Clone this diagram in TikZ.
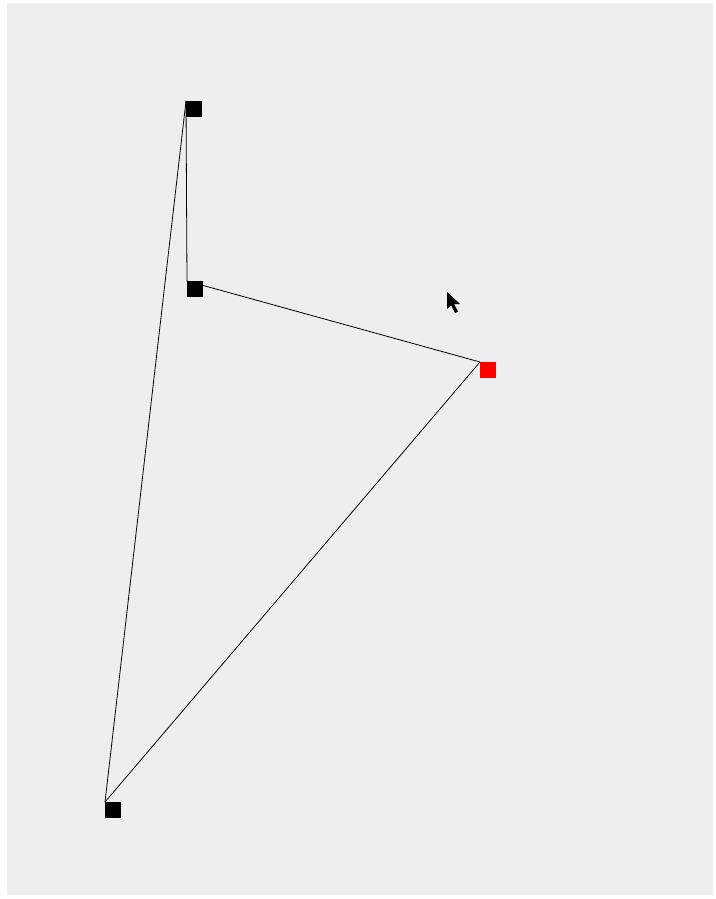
\documentclass[tikz,border=0pt]{standalone}
\usepackage{tikz}
\usetikzlibrary{positioning,calc}
\definecolor{Canvas}{HTML}{EEEEEE}
\definecolor{Edge}{HTML}{FFFFFF}
\definecolor{Ink}{HTML}{000000}
\definecolor{Hot}{HTML}{FF0000}
\definecolor{Shade}{HTML}{A8A8A8}
\tikzset{
  handle/.style={draw=none,fill=Ink,minimum size=16pt,inner sep=0pt,anchor=north west},
  handlehot/.style={handle,fill=Hot},
  wire/.style={draw=Ink,line width=0.8pt}
}

\begin{document}
\begin{tikzpicture}[x=1pt,y=-1pt]
  \fill[Edge] (0,0) rectangle (715,899);
  \fill[Canvas] (7,3) rectangle (713,895);
  \useasboundingbox (0,0) rectangle (715,899);
  % points of the polygon
  \node[handle] (top) at (186,101) {};
  \node[handle] (mid) at (187,281) {};
  \node[handlehot] (hot) at (480,362) {};
  \node[handle] (low) at (105,802) {};
  \draw[wire] (top.north west)--(mid.north west);
  \draw[wire] (mid.north west)--(hot.north west);
  \draw[wire] (hot.north west)--(low.north west);
  \draw[wire] (low.north west)--(top.north west);
  % mouse pointer
  \coordinate (tip) at (447,292);
  \fill[Shade,opacity=0.6,shift={(2,2)}] (tip) -- ++(0,17) -- ++(4,-4) -- ++(4,8) -- ++(3,-1.5) -- ++(-4,-7.5) -- ++(6,0) -- cycle;
  \fill[Ink] (tip) -- ++(0,17) -- ++(4,-4) -- ++(4,8) -- ++(3,-1.5) -- ++(-4,-7.5) -- ++(6,0) -- cycle;
\end{tikzpicture}
\end{document}
